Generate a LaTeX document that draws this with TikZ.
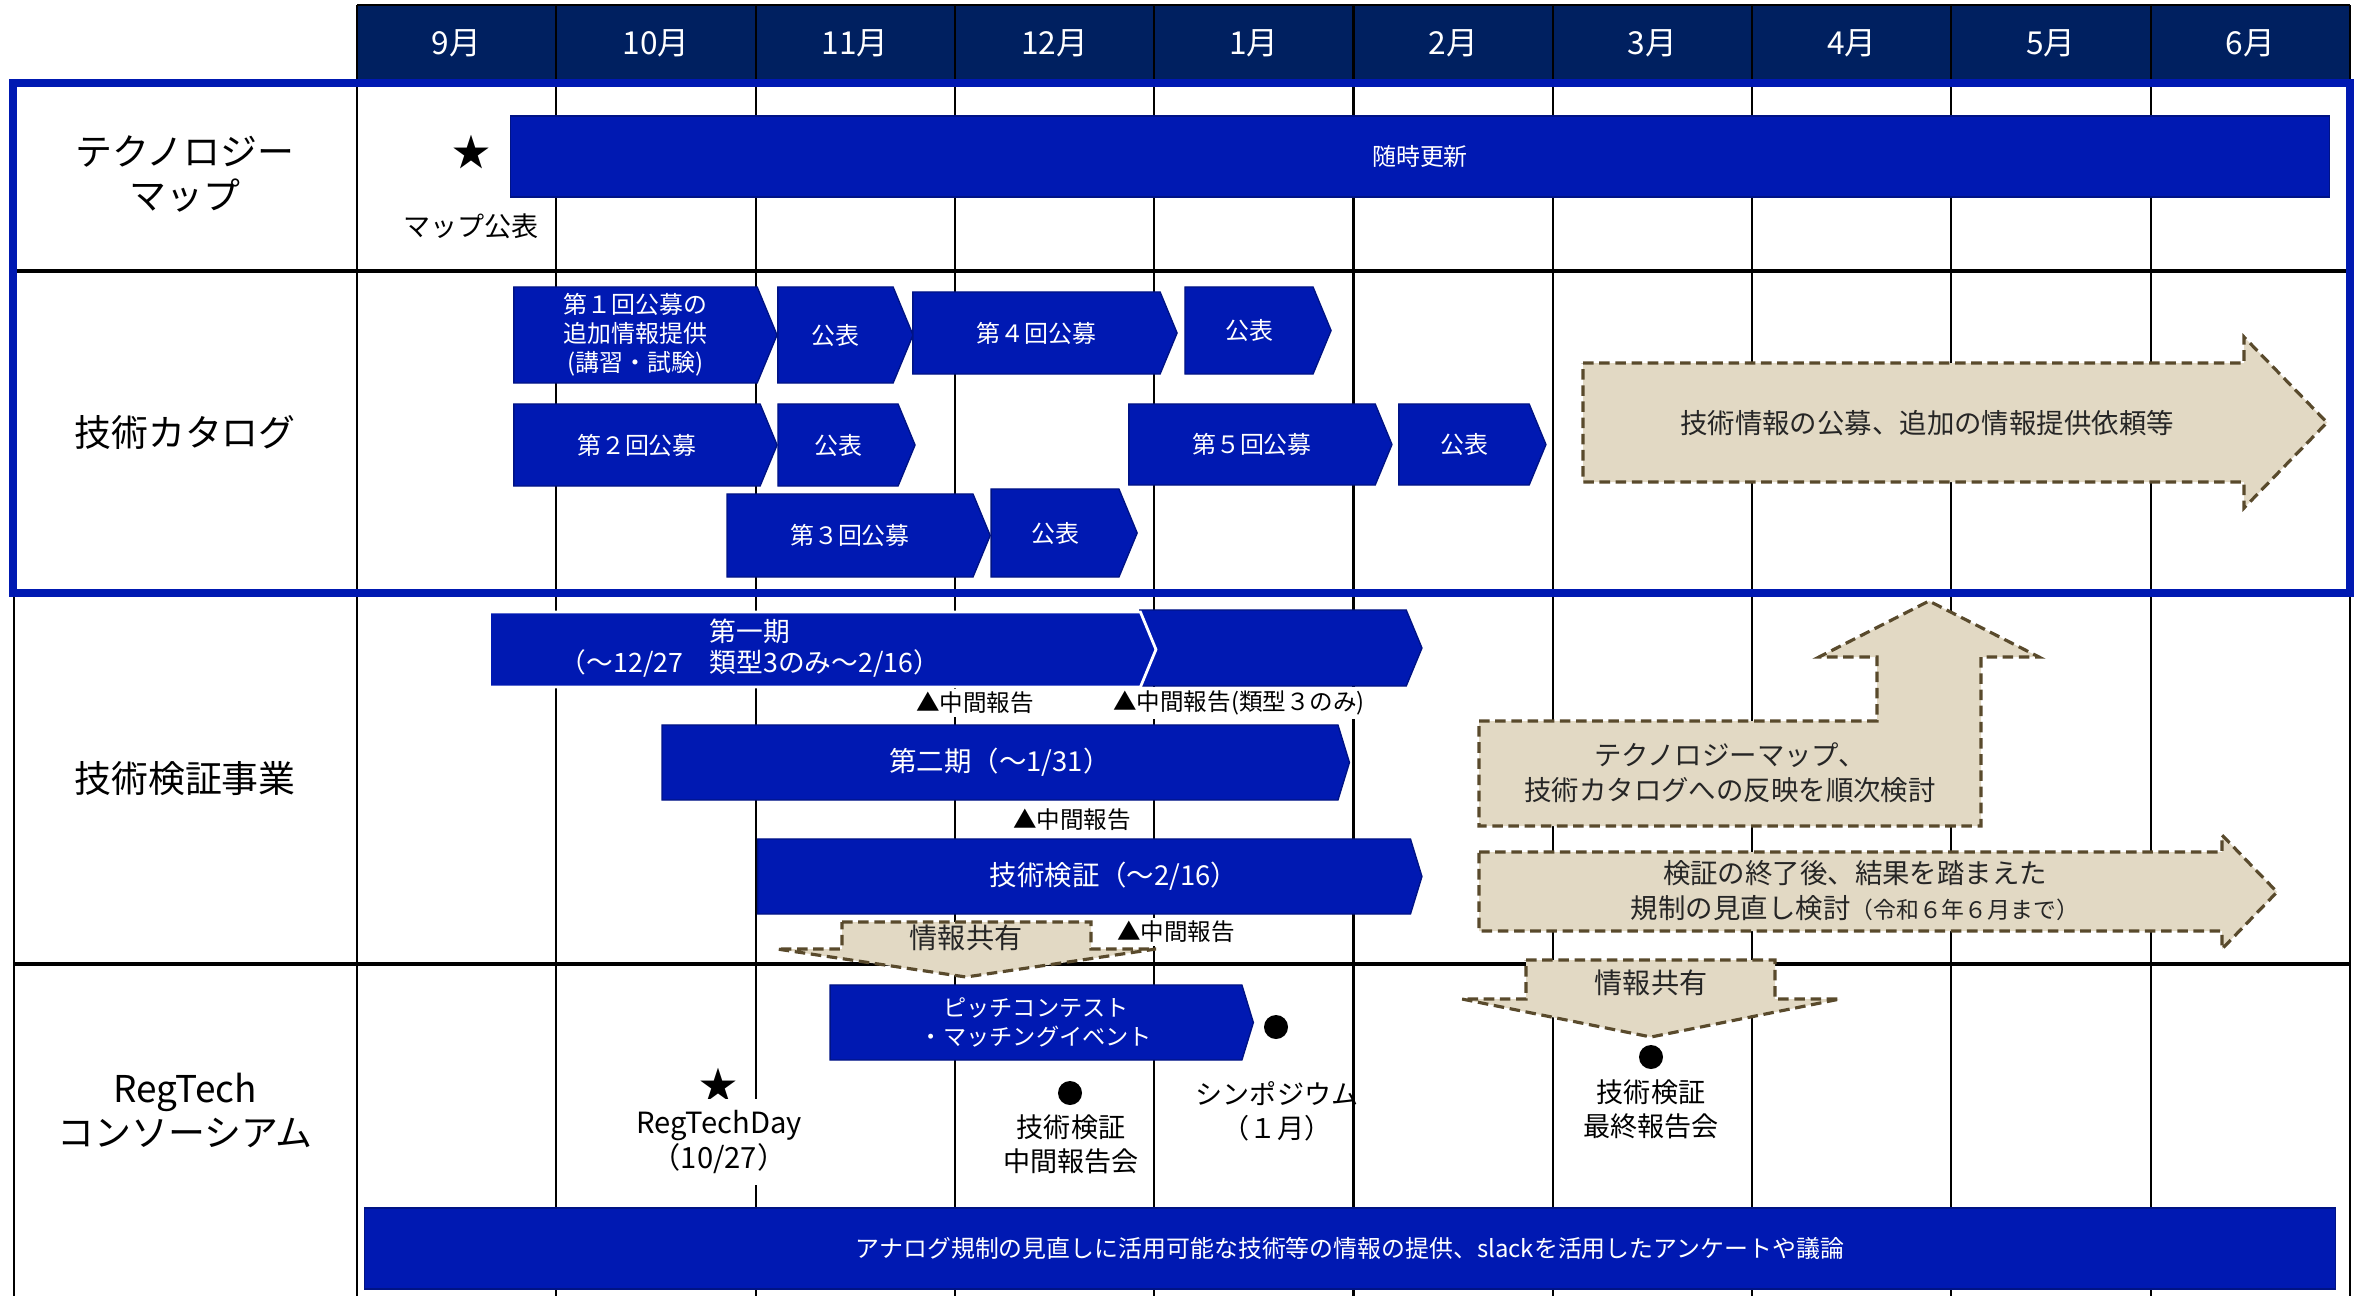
\documentclass[tikz,border=0pt]{standalone}
\usepackage{fontspec}
\setmainfont{Noto Sans CJK JP}
\usetikzlibrary{shapes, arrows.meta, positioning, calc}
\definecolor{navy1}{RGB}{0, 32, 96}
\definecolor{blue1}{RGB}{0, 25, 178}
\definecolor{beige1}{RGB}{226, 217, 196}
\definecolor{brown1}{RGB}{89, 74, 44}

\begin{document}
\begin{tikzpicture}[x=0.01cm, y=-0.01cm,
  gridline/.style={black, line width=0.6pt},
  rowline/.style={black, line width=1.3pt},
  rowlabel/.style={align=center, font=\fontsize{10.5}{12.5}\selectfont},
  month/.style={text=white, font=\fontsize{9}{11}\selectfont},
  bluebar/.style={fill=blue1, draw=blue1!75!black, line width=0.4pt, text=white, inner sep=0pt, align=center, font=\fontsize{6.8}{8.3}\selectfont},
  chev/.style={bluebar, shape=signal, signal to=east, signal pointer angle=135},
  longchev/.style={chev, signal pointer angle=146, font=\fontsize{7.8}{9.8}\selectfont},
  bartext/.style={text=white, align=center, inner sep=0pt, font=\fontsize{7.6}{8.6}\selectfont},
  notearrow/.style={fill=beige1, draw=brown1, line width=0.9pt, dash pattern=on 3pt off 1.6pt},
  note/.style={align=center, text=black!85, font=\fontsize{7.8}{10}\selectfont},
  memo/.style={fill=white, inner sep=1pt, font=\fontsize{6.7}{8}\selectfont},
  event/.style={align=center, font=\fontsize{7.7}{9.7}\selectfont},
  evdot/.style={circle, fill=black, inner sep=0pt, minimum size=0.24cm},
  evstar/.style={inner sep=0pt, font=\fontsize{10.8}{11}\selectfont}
]
\useasboundingbox (0,0) rectangle (2362,1296);

% month header and grid
\fill[navy1] (357,5) rectangle (2350,79);
\draw[gridline] (357,5) -- (2350,5);
\foreach \i in {0,...,10}
  \draw[gridline] ({357+199.3*\i},5) -- ({357+199.3*\i},1296);
\foreach \m [count=\i from 0] in {9月,10月,11月,12月,1月,2月,3月,4月,5月,6月}
  \node[month] (mon\i) at ({456.6+199.3*\i},43) {\m};

\draw[rowline] (13,271) -- (2350,271);
\draw[rowline] (14,964) -- (2350,964);
\draw[gridline] (14,593) -- (14,1296);
\draw[gridline] (2350,593) -- (2350,1296);
\draw[blue1, line width=2pt] (13,83) rectangle (2350,593);

% row titles
\node[rowlabel] (techmap) at (185,174) {テクノロジー\\マップ};
\node[rowlabel] (catalog) at (185,432) {技術カタログ};
\node[rowlabel] (pilot) at (185,779) {技術検証事業};
\node[rowlabel] (regtech) at (185,1110) {RegTech\\コンソーシアム};

% technology map
\node[evstar] (mapstar) at (471,152) {★};
\node[event] (mappub) at (471,226) {マップ公表};
\node[bluebar, minimum width=18.18cm, minimum height=0.81cm] (update) at (1420,156.5) {随時更新};

% catalog calls
\node[chev, minimum width=2.63cm, minimum height=0.96cm] (call1) at (635.5,335) {第１回公募の\\追加情報提供\\(講習・試験)};
\node[chev, minimum width=1.35cm, minimum height=0.96cm] (pub1) at (835.5,335) {公表};
\node[chev, minimum width=2.64cm, minimum height=0.82cm] (call4) at (1036.5,333) {第４回公募};
\node[chev, minimum width=1.46cm, minimum height=0.87cm] (pub4) at (1249,330.5) {公表};
\node[chev, minimum width=2.63cm, minimum height=0.82cm] (call2) at (637,445) {第２回公募};
\node[chev, minimum width=1.37cm, minimum height=0.82cm] (pub2) at (838,445) {公表};
\node[chev, minimum width=2.63cm, minimum height=0.81cm] (call5) at (1252,444.5) {第５回公募};
\node[chev, minimum width=1.47cm, minimum height=0.81cm] (pub5) at (1464,444.5) {公表};
\node[chev, minimum width=2.63cm, minimum height=0.83cm] (call3) at (850,535.5) {第３回公募};
\node[chev, minimum width=1.46cm, minimum height=0.88cm] (pub3) at (1055,533) {公表};

\draw[notearrow] (1583,363) -- (2244,363) -- (2244,337) -- (2327,422.5) -- (2244,508) -- (2244,482) -- (1583,482) -- cycle;
\node[note] (callinfo) at (1927,423) {技術情報の公募、追加の情報提供依頼等};

% pilot projects
\node[chev, minimum width=2.82cm, minimum height=0.76cm] (phase1b) at (1273,648) {};
\node[chev, draw=white, line width=0.8pt, minimum width=6.66cm, minimum height=0.75cm] (phase1) at (815,649.5) {};
\node[bartext] (phase1txt) at (750,648) {第一期\\（～12/27　類型3のみ～2/16）};
\node[longchev, minimum width=6.87cm, minimum height=0.75cm] (phase2) at (1000,762.5) {第二期（～1/31）};
\node[longchev, minimum width=6.64cm, minimum height=0.75cm] (verify) at (1084,876.5) {};
\node[bartext, font=\fontsize{7.8}{9.8}\selectfont] (verifytxt) at (1114,876.5) {技術検証（～2/16）};

\node[memo] (rep1) at (975,703) {▲中間報告};
\node[memo] (rep2) at (1239,703) {▲中間報告(類型３のみ)};
\node[memo] (rep3) at (1072,820) {▲中間報告};
\node[memo] (rep4) at (1176,932) {▲中間報告};

\draw[notearrow] (1479,721) -- (1877,721) -- (1877,657) -- (1819,657) -- (1929,601) -- (2039,657) -- (1981,657) -- (1981,826) -- (1479,826) -- cycle;
\node[note] (reflect) at (1730,773) {テクノロジーマップ、\\技術カタログへの反映を順次検討};
\draw[notearrow] (1479,852) -- (2222,852) -- (2222,835) -- (2277,892) -- (2222,949) -- (2222,931) -- (1479,931) -- cycle;
\node[note] (review) at (1855,891) {検証の終了後、結果を踏まえた\\規制の見直し検討{\fontsize{6.5}{8}\selectfont（令和６年６月まで）}};

\draw[notearrow] (842,922) -- (1091,922) -- (1091,949) -- (1156,949) -- (966,977) -- (777,949) -- (842,949) -- cycle;
\node[note, font=\fontsize{8}{10}\selectfont] (share1) at (966,938) {情報共有};
\draw[notearrow] (1526,960) -- (1775,960) -- (1775,999) -- (1840,999) -- (1651,1037) -- (1462,999) -- (1526,999) -- cycle;
\node[note, font=\fontsize{8}{10}\selectfont] (share2) at (1651,983) {情報共有};

% consortium
\node[longchev, font=\fontsize{6.6}{8}\selectfont, minimum width=4.23cm, minimum height=0.75cm] (pitch) at (1036,1022.5) {ピッチコンテスト\\・マッチングイベント};
\node[evdot] (symdot) at (1276,1027) {};
\node[event] (sympo) at (1277,1111) {シンポジウム\\（１月）};
\node[evstar, fill=white] (daystar) at (718,1085) {★};
\node[event, fill=white, font=\fontsize{8.3}{9.9}\selectfont] (regday) at (719,1142) {RegTechDay\\（10/27）};
\node[evdot] (middot) at (1070,1093) {};
\node[event] (midrep) at (1071,1144) {技術検証\\中間報告会};
\node[evdot] (findot) at (1651,1057) {};
\node[event] (finrep) at (1651,1109) {技術検証\\最終報告会};
\node[bluebar, minimum width=19.7cm, minimum height=0.81cm] (forum) at (1350,1248.5) {アナログ規制の見直しに活用可能な技術等の情報の提供、slackを活用したアンケートや議論};
\end{tikzpicture}
\end{document}
